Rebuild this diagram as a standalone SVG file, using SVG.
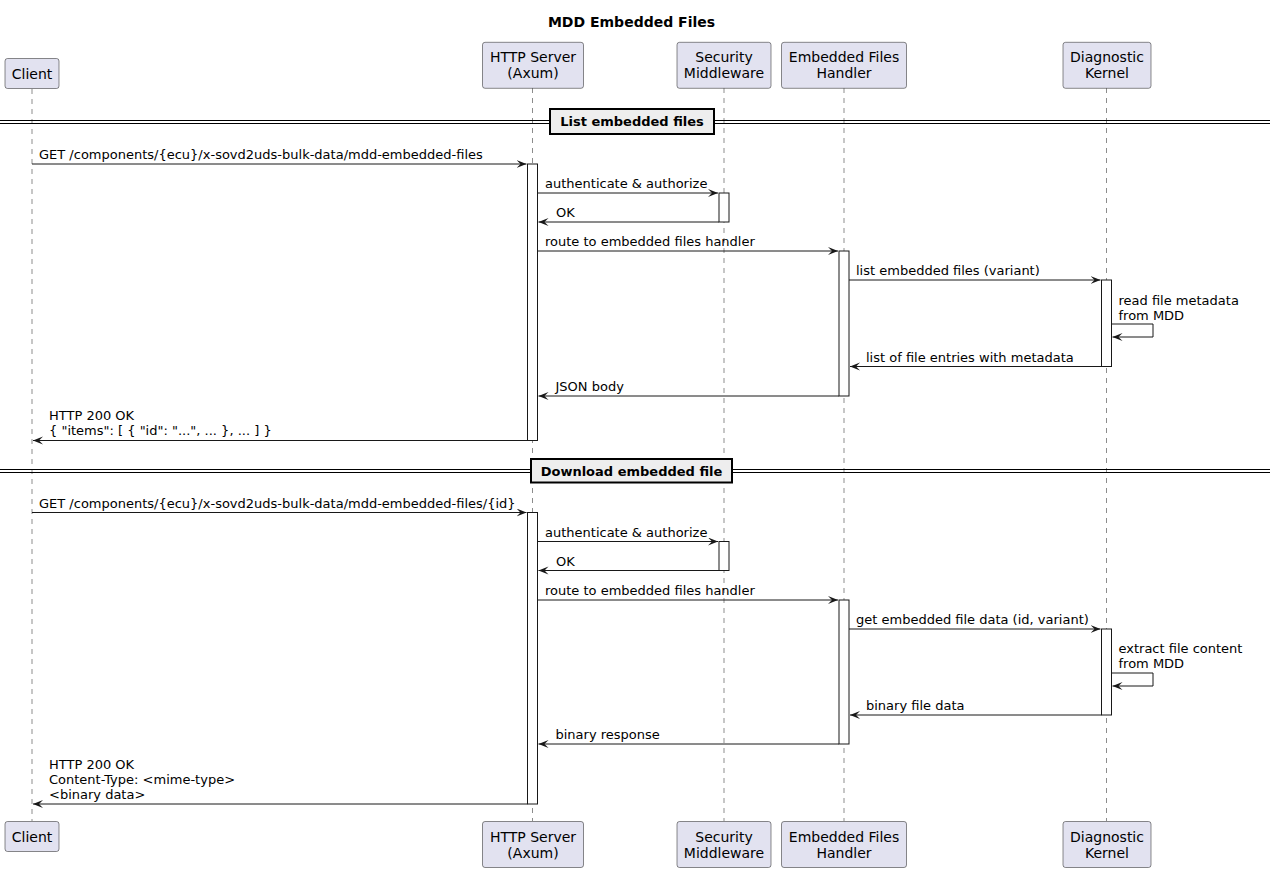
<svg xmlns="http://www.w3.org/2000/svg" width="1270" height="872" viewBox="0 0 1270 872">
<defs>
<style>
text{font-family:"DejaVu Sans","Liberation Sans",sans-serif;fill:#000}
.title{font-size:14px;font-weight:bold}
.p{font-size:14px;text-anchor:middle}
.m{font-size:13px}
.div{font-size:13px;font-weight:bold;text-anchor:middle}
.box{fill:#E2E2F0;stroke:#181818;stroke-width:0.5}
.life{stroke:#181818;stroke-width:0.5;stroke-dasharray:5,5;fill:none}
.act{fill:#FFFFFF;stroke:#181818;stroke-width:1}
.msg{stroke:#181818;stroke-width:1;fill:none;marker-end:url(#ah)}
.dl{stroke:#000;stroke-width:1}
.db{fill:#EEEEEE;stroke:#000;stroke-width:2}
</style>
<marker id="ah" markerUnits="userSpaceOnUse" markerWidth="11" markerHeight="9" refX="10" refY="4" orient="auto" viewBox="0 0 11 9">
<path d="M0,0 L10,4 L0,8 L4,4 Z" fill="#181818"/>
</marker>
</defs>
<rect width="1270" height="872" fill="#FFFFFF"/>
<text class="title" x="631.5" y="27" text-anchor="middle">MDD Embedded Files</text>

<g id="lifelines">
<line class="life" x1="32" y1="89" x2="32" y2="821"/>
<line class="life" x1="532.5" y1="88" x2="532.5" y2="821"/>
<line class="life" x1="724" y1="88" x2="724" y2="821"/>
<line class="life" x1="844" y1="88" x2="844" y2="821"/>
<line class="life" x1="1106.5" y1="88" x2="1106.5" y2="821"/>
</g>

<g id="dividers">
<line class="dl" x1="0" y1="120.5" x2="1270" y2="120.5"/>
<line class="dl" x1="0" y1="123.5" x2="1270" y2="123.5"/>
<rect class="db" x="550" y="109" width="164" height="25"/>
<text class="div" x="632" y="126">List embedded files</text>
<line class="dl" x1="0" y1="469.5" x2="1270" y2="469.5"/>
<line class="dl" x1="0" y1="472.5" x2="1270" y2="472.5"/>
<rect class="db" x="531" y="459" width="201" height="23.5"/>
<text class="div" x="631.5" y="475.5">Download embedded file</text>
</g>

<g id="activations">
<rect class="act" x="527.5" y="164" width="10" height="276.5"/>
<rect class="act" x="719" y="193" width="10" height="29"/>
<rect class="act" x="839" y="251" width="10" height="145"/>
<rect class="act" x="1101.5" y="280" width="10" height="86.5"/>
<rect class="act" x="527.5" y="512.5" width="10" height="291.5"/>
<rect class="act" x="719" y="541.5" width="10" height="29"/>
<rect class="act" x="839" y="600" width="10" height="144"/>
<rect class="act" x="1101.5" y="629" width="10" height="86"/>
</g>

<g id="connectors">
<line class="msg" x1="32" y1="164" x2="526.5" y2="164"/>
<line class="msg" x1="537.5" y1="193" x2="718" y2="193"/>
<line class="msg" x1="719" y1="222" x2="538.5" y2="222"/>
<line class="msg" x1="537.5" y1="251" x2="838" y2="251"/>
<line class="msg" x1="849" y1="280" x2="1100.5" y2="280"/>
<polyline class="msg" points="1111.5,324 1153,324 1153,337 1112.5,337"/>
<line class="msg" x1="1101.5" y1="366.5" x2="850" y2="366.5"/>
<line class="msg" x1="839" y1="396" x2="538.5" y2="396"/>
<line class="msg" x1="527.5" y1="440.5" x2="33" y2="440.5"/>

<line class="msg" x1="32" y1="512.5" x2="526.5" y2="512.5"/>
<line class="msg" x1="537.5" y1="541.5" x2="718" y2="541.5"/>
<line class="msg" x1="719" y1="570.5" x2="538.5" y2="570.5"/>
<line class="msg" x1="537.5" y1="600" x2="838" y2="600"/>
<line class="msg" x1="849" y1="629" x2="1100.5" y2="629"/>
<polyline class="msg" points="1111.5,673 1153,673 1153,686 1112.5,686"/>
<line class="msg" x1="1101.5" y1="715" x2="850" y2="715"/>
<line class="msg" x1="839" y1="744" x2="538.5" y2="744"/>
<line class="msg" x1="527.5" y1="804" x2="33" y2="804"/>
</g>

<g id="labels">
<text class="m" x="39" y="159">GET /components/{ecu}/x-sovd2uds-bulk-data/mdd-embedded-files</text>
<text class="m" x="545" y="188">authenticate &amp; authorize</text>
<text class="m" x="556" y="217">OK</text>
<text class="m" x="545" y="246">route to embedded files handler</text>
<text class="m" x="856" y="275">list embedded files (variant)</text>
<text class="m" x="1118.5" y="305">read file metadata</text>
<text class="m" x="1118.5" y="320">from MDD</text>
<text class="m" x="866" y="361.5">list of file entries with metadata</text>
<text class="m" x="555.5" y="391">JSON body</text>
<text class="m" x="49" y="420">HTTP 200 OK</text>
<text class="m" x="49" y="435">{ "items": [ { "id": "...", ... }, ... ] }</text>

<text class="m" x="39" y="507.5">GET /components/{ecu}/x-sovd2uds-bulk-data/mdd-embedded-files/{id}</text>
<text class="m" x="545" y="536.5">authenticate &amp; authorize</text>
<text class="m" x="556" y="565.5">OK</text>
<text class="m" x="545" y="595">route to embedded files handler</text>
<text class="m" x="856" y="624">get embedded file data (id, variant)</text>
<text class="m" x="1118.5" y="653">extract file content</text>
<text class="m" x="1118.5" y="668">from MDD</text>
<text class="m" x="866" y="710">binary file data</text>
<text class="m" x="555.5" y="739">binary response</text>
<text class="m" x="49" y="769">HTTP 200 OK</text>
<text class="m" x="49" y="784">Content-Type: &lt;mime-type&gt;</text>
<text class="m" x="49" y="799">&lt;binary data&gt;</text>
</g>

<g id="client">
<rect class="box" x="5" y="58.5" width="54" height="30" rx="2.5"/>
<text class="p" x="32" y="79">Client</text>
<rect class="box" x="5" y="821.5" width="54" height="30" rx="2.5"/>
<text class="p" x="32" y="842">Client</text>
</g>
<g id="http-server">
<rect class="box" x="482.5" y="42.3" width="101" height="46" rx="2.5"/>
<text class="p" x="533" y="62.3">HTTP Server</text>
<text class="p" x="533" y="78.3">(Axum)</text>
<rect class="box" x="482.5" y="821.5" width="101" height="46" rx="2.5"/>
<text class="p" x="533" y="841.5">HTTP Server</text>
<text class="p" x="533" y="857.5">(Axum)</text>
</g>
<g id="security-middleware">
<rect class="box" x="677" y="42.3" width="94" height="46" rx="2.5"/>
<text class="p" x="724" y="62.3">Security</text>
<text class="p" x="724" y="78.3">Middleware</text>
<rect class="box" x="677" y="821.5" width="94" height="46" rx="2.5"/>
<text class="p" x="724" y="841.5">Security</text>
<text class="p" x="724" y="857.5">Middleware</text>
</g>
<g id="embedded-files-handler">
<rect class="box" x="781.5" y="42.3" width="125" height="46" rx="2.5"/>
<text class="p" x="844" y="62.3">Embedded Files</text>
<text class="p" x="844" y="78.3">Handler</text>
<rect class="box" x="781.5" y="821.5" width="125" height="46" rx="2.5"/>
<text class="p" x="844" y="841.5">Embedded Files</text>
<text class="p" x="844" y="857.5">Handler</text>
</g>
<g id="diagnostic-kernel">
<rect class="box" x="1063" y="42.3" width="88" height="46" rx="2.5"/>
<text class="p" x="1107" y="62.3">Diagnostic</text>
<text class="p" x="1107" y="78.3">Kernel</text>
<rect class="box" x="1063" y="821.5" width="88" height="46" rx="2.5"/>
<text class="p" x="1107" y="841.5">Diagnostic</text>
<text class="p" x="1107" y="857.5">Kernel</text>
</g>
</svg>
